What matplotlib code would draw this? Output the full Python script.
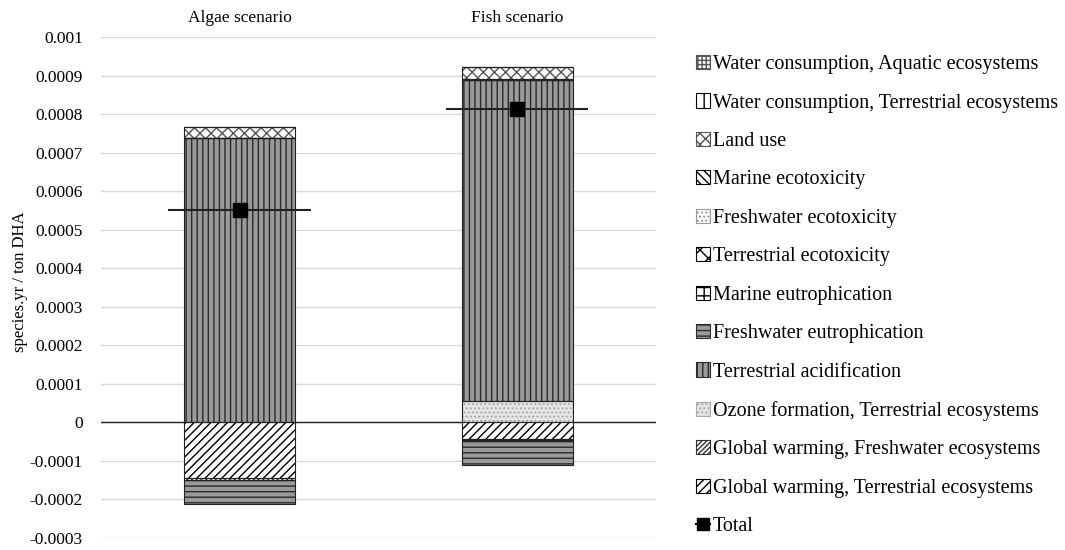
import numpy as np
import matplotlib
matplotlib.use("Agg")
from matplotlib import pyplot as plt
from matplotlib.patches import Patch
from matplotlib.lines import Line2D

plt.rcParams["font.family"] = ["Liberation Serif", "DejaVu Serif"]
plt.rcParams["hatch.linewidth"] = 1.0

scenarios = ["Algae scenario", "Fish scenario"]

# impact categories, stacking order (bottom first)
categories = [
    "Global warming, Terrestrial ecosystems",
    "Global warming, Freshwater ecosystems",
    "Ozone formation, Terrestrial ecosystems",
    "Terrestrial acidification",
    "Freshwater eutrophication",
    "Marine eutrophication",
    "Terrestrial ecotoxicity",
    "Freshwater ecotoxicity",
    "Marine ecotoxicity",
    "Land use",
    "Water consumption, Terrestrial ecosystems",
    "Water consumption, Aquatic ecosystems",
]

algae = [-0.000146, -0.000004, 0.0, 0.000738, -0.000064, 0.0, 0.0, 0.0, 0.0, 0.000027, 0.0, 0.0]
fish = [-0.000044, -0.000002, 0.000055, 0.000834, -0.000066, 0.0, 0.0, 0.0, 0.000002, 0.000032, 0.0, 0.0]
totals = [0.000551, 0.000813]

y_ticks = [0.001, 0.0009, 0.0008, 0.0007, 0.0006, 0.0005, 0.0004, 0.0003, 0.0002,
           0.0001, 0, -0.0001, -0.0002, -0.0003]
y_tick_labels = ["0.001", "0.0009", "0.0008", "0.0007", "0.0006", "0.0005", "0.0004",
                 "0.0003", "0.0002", "0.0001", "0", "-0.0001", "-0.0002", "-0.0003"]

# (facecolor, hatch, hatch colour)
styles = [
    ("white", "////", "black"),
    ("white", "///////", "#333333"),
    ("#e6e6e6", "....", "#aaaaaa"),
    ("#9a9a9a", "|||", "#2a2a2a"),
    ("#9a9a9a", "---", "#2a2a2a"),
    ("white", "++", "black"),
    ("white", "xx", "black"),
    ("white", "....", "#999999"),
    ("white", "\\\\\\\\", "black"),
    ("white", "xxx", "#555555"),
    ("white", "||", "black"),
    ("white", "++++", "#555555"),
]

fig = plt.figure(figsize=(10.65, 5.5), dpi=100)
ax = fig.add_axes([0.0948, 0.0227, 0.521, 0.91])

x = np.arange(len(scenarios))
width = 0.4
data = np.array([algae, fish]).T
pos_bottom = np.zeros(len(scenarios))
neg_bottom = np.zeros(len(scenarios))
handles = []
for vals, name, (fc, hatch, hc) in zip(data, categories, styles):
    bottom = np.where(vals >= 0, pos_bottom, neg_bottom)
    ax.bar(x, vals, width, bottom=bottom, facecolor=fc, hatch=hatch,
           edgecolor=hc, linewidth=0, zorder=3)
    ax.bar(x, vals, width, bottom=bottom, facecolor="none",
           edgecolor="#222222", linewidth=0.8, zorder=4)
    pos_bottom = pos_bottom + np.where(vals > 0, vals, 0)
    neg_bottom = neg_bottom + np.where(vals < 0, vals, 0)
    handles.append(Patch(facecolor=fc, hatch=hatch, edgecolor=hc, linewidth=0.8))

# total markers with horizontal line
ax.hlines(totals, x - 0.257, x + 0.257, color="#222222", linewidth=1.5, zorder=5)
ax.plot(x, totals, linestyle="none", marker="s", markersize=9.5,
        color="black", zorder=6)

ax.set_xlim(-0.5, 1.5)
ax.set_ylim(-0.0003, 0.001)
ax.set_yticks(y_ticks)
ax.set_yticklabels(y_tick_labels, fontsize=12.5)
ax.set_xticks(x)
ax.set_xticklabels(scenarios, fontsize=12.5)
ax.xaxis.tick_top()
ax.tick_params(axis="x", length=0, pad=8)
ax.tick_params(axis="y", length=0, pad=13)
ax.yaxis.grid(True, color="#d9d9d9", linewidth=1, zorder=0)
ax.axhline(0, color="#222222", linewidth=1, zorder=2)
for s in ax.spines.values():
    s.set_visible(False)
ax.set_ylabel("species.yr / ton DHA", fontsize=12)
ax.yaxis.set_label_coords(-0.1315, 0.512)

total_handle = Line2D([], [], color="black", marker="s", markersize=8, linewidth=1.5)
leg_handles = handles[::-1] + [total_handle]
leg_labels = categories[::-1] + ["Total"]
fig.legend(leg_handles, leg_labels, loc="upper left", bbox_to_anchor=(0.6535, 0.9),
           frameon=False, fontsize=14.5, handlelength=0.7, handleheight=0.7,
           handletextpad=0.15, labelspacing=0.96, borderaxespad=0, borderpad=0)

fig.savefig("out.png", dpi=100)
